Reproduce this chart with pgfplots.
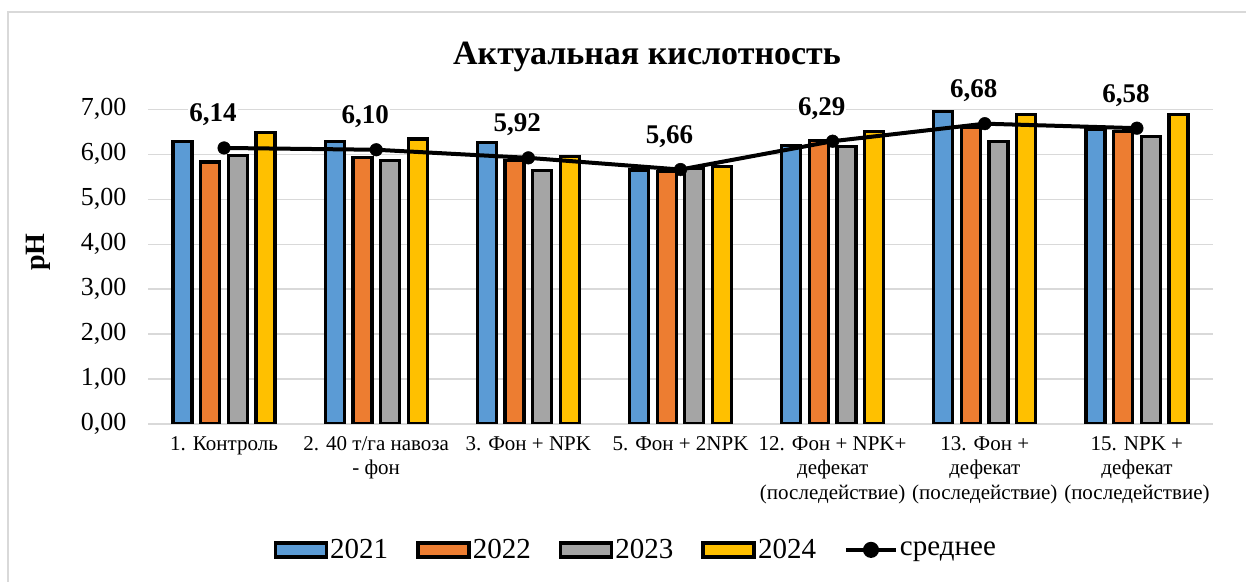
\documentclass[border=0pt]{standalone}
\usepackage{pgfplots}
\pgfplotsset{compat=1.18}
\usepackage{pgfplotstable}
\usepackage{fontspec}
\setmainfont{Liberation Serif}
\definecolor{c1}{HTML}{5B9BD5}
\definecolor{c2}{HTML}{ED7D31}
\definecolor{c3}{HTML}{A5A5A5}
\definecolor{c4}{HTML}{FFC000}
\definecolor{gridgray}{HTML}{D9D9D9}

\pgfplotstableread{
x  a    b    c    d
0  6.28 5.83 5.97 6.49
1  6.28 5.93 5.86 6.34
2  6.27 5.87 5.63 5.95
3  5.65 5.61 5.69 5.72
4  6.19 6.30 6.17 6.50
5  6.95 6.60 6.28 6.89
6  6.55 6.50 6.39 6.88
}\bars

\pgfplotstableread{
x  m    lab
0  6.14 6,14
1  6.10 6,10
2  5.92 5,92
3  5.66 5,66
4  6.29 6,29
5  6.68 6,68
6  6.58 6,58
}\means

\begin{document}
\begin{tikzpicture}
\useasboundingbox (0,0) rectangle (1246bp,582bp);
\draw[gridgray, line width=1.5bp] (8bp,-5bp) -- (8bp,570bp) -- (1250bp,570bp);
\node[font=\bfseries\fontsize{34bp}{38bp}\selectfont, anchor=base] at (647bp,517bp) {Актуальная кислотность};
\node[font=\bfseries\fontsize{28bp}{32bp}\selectfont, rotate=90, anchor=center] at (38bp,330bp) {pH};
\begin{axis}[
  at={(148bp,158bp)}, anchor=south west,
  scale only axis, width=1065bp, height=314.7bp,
  xmin=-0.5, xmax=6.5, ymin=0, ymax=7,
  xtick={0,1,2,3,4,5,6},
  xticklabels={{1. Контроль},{2. 40 т/га навоза\\- фон},{3. Фон + NPK},{5. Фон + 2NPK},{12. Фон + NPK+\\дефекат\\(последействие)},{13. Фон +\\дефекат\\(последействие)},{15. NPK +\\дефекат\\(последействие)}},
  xticklabel style={align=center, font=\fontsize{21bp}{24.5bp}\selectfont, yshift=-9bp},
  ytick={0,1,2,3,4,5,6,7},
  yticklabel style={font=\fontsize{26bp}{30bp}\selectfont, xshift=-18bp},
  /pgf/number format/assume math mode=true,
  /pgf/number format/use comma,
  /pgf/number format/fixed,
  /pgf/number format/fixed zerofill,
  /pgf/number format/precision=2,
  ymajorgrids, grid style={gridgray, line width=1.3bp},
  axis x line*=bottom, axis y line*=left,
  x axis line style={gridgray, line width=1.3bp},
  y axis line style={draw=none},
  xtick style={draw=none}, ytick style={draw=none},
  extra x ticks={-0.5}, extra x tick labels={},
  extra x tick style={major tick length=12bp, tick align=center, tick style={draw=gridgray, line width=1.3bp}},
  legend columns=5,
  legend cell align=left,
  legend style={at={(0.458,-0.40)}, anchor=center, draw=none, fill=none,
    font=\fontsize{29bp}{32bp}\selectfont, inner sep=0pt,
    /tikz/every even column/.append style={column sep=26bp},
    /tikz/every odd column/.append style={column sep=0bp}},
]
\addplot[ybar, bar width=19bp, bar shift=-41.5bp, fill=c1, draw=black, line width=3.2bp,
  legend image code/.code={\draw[fill=c1, draw=black, line width=3.6bp] (0bp,-7bp) rectangle (51bp,7bp);}]
  table[x=x, y=a] {\bars};
\addlegendentry{2021}
\addplot[ybar, bar width=19bp, bar shift=-13.8bp, fill=c2, draw=black, line width=3.2bp,
  legend image code/.code={\draw[fill=c2, draw=black, line width=3.6bp] (0bp,-7bp) rectangle (51bp,7bp);}]
  table[x=x, y=b] {\bars};
\addlegendentry{2022}
\addplot[ybar, bar width=19bp, bar shift=13.8bp, fill=c3, draw=black, line width=3.2bp,
  legend image code/.code={\draw[fill=c3, draw=black, line width=3.6bp] (0bp,-7bp) rectangle (51bp,7bp);}]
  table[x=x, y=c] {\bars};
\addlegendentry{2023}
\addplot[ybar, bar width=19bp, bar shift=41.5bp, fill=c4, draw=black, line width=3.2bp,
  legend image code/.code={\draw[fill=c4, draw=black, line width=3.6bp] (0bp,-7bp) rectangle (51bp,7bp);}]
  table[x=x, y=d] {\bars};
\addlegendentry{2024}
\addplot[sharp plot, black, line width=4bp, mark=*, mark size=6.3bp,
  mark options={fill=black, draw=black, line width=0.5bp},
  nodes near coords, point meta=explicit symbolic,
  every node near coord/.append style={font=\bfseries\fontsize{27bp}{30bp}\selectfont,
    anchor=center, xshift=-11bp, yshift=33bp, fill=white, inner sep=1bp},
  legend image code/.code={\draw[black, line width=4bp] (0bp,0bp) -- (50bp,0bp);
    \fill[black] (25bp,0bp) circle (6bp);}]
  table[x=x, y=m, meta=lab] {\means};
\addlegendentry{среднее}
\end{axis}
\end{tikzpicture}
\end{document}
